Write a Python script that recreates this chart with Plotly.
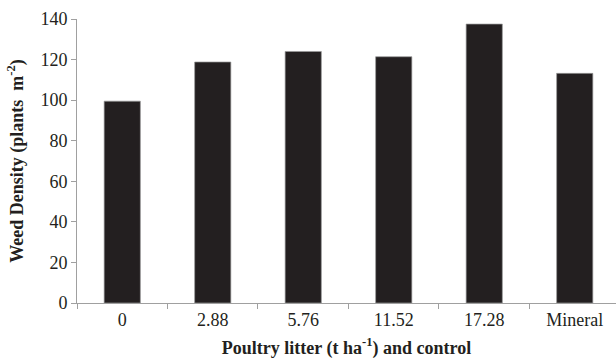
import plotly.graph_objects as go

categories = ["0", "2.88", "5.76", "11.52", "17.28", "Mineral"]
weed_density = [99.5, 118.8, 124.0, 121.4, 137.5, 113.2]
y_ticks = [0, 20, 40, 60, 80, 100, 120, 140]

FONT = "Liberation Serif, Times New Roman, serif"
AXIS = "#a0a0a0"

fig = go.Figure(
    go.Bar(
        x=categories,
        y=weed_density,
        width=0.4,
        marker=dict(color="#231f20", line=dict(color="#9a9a9a", width=0.7)),
        hoverinfo="skip",
    )
)

fig.update_layout(
    width=616,
    height=362,
    margin=dict(l=77, r=0, t=19, b=59),
    paper_bgcolor="white",
    plot_bgcolor="white",
    showlegend=False,
    font=dict(family=FONT, size=18, color="#231f20"),
)

fig.update_xaxes(
    type="category",
    range=[-0.5, 5.456],
    automargin=False,
    showline=True,
    linecolor=AXIS,
    linewidth=1,
    ticks="outside",
    tickson="boundaries",
    ticklen=5,
    tickcolor=AXIS,
    tickwidth=1,
    showgrid=False,
    tickfont=dict(family=FONT, size=18, color="#231f20"),
    title=dict(
        text="<b>Poultry litter (t ha<sup>-1</sup>) and control</b>",
        font=dict(family=FONT, size=18, color="#231f20"),
        standoff=12,
    ),
)

fig.update_yaxes(
    range=[0, 140],
    tickvals=y_ticks,
    automargin=False,
    showline=True,
    linecolor=AXIS,
    linewidth=1,
    ticks="outside",
    ticklen=5,
    tickcolor=AXIS,
    tickwidth=1,
    showgrid=False,
    zeroline=False,
    tickfont=dict(family=FONT, size=18, color="#231f20"),
    title=dict(
        text="<b>Weed Density (plants&nbsp; m<sup>-2</sup>)</b>",
        font=dict(family=FONT, size=18, color="#231f20"),
        standoff=12,
    ),
)

fig.write_html(
    "out.html",
    config={"displayModeBar": False},
    post_script="document.body.style.margin='0';document.body.style.overflow='hidden';document.documentElement.style.overflow='hidden';",
)
